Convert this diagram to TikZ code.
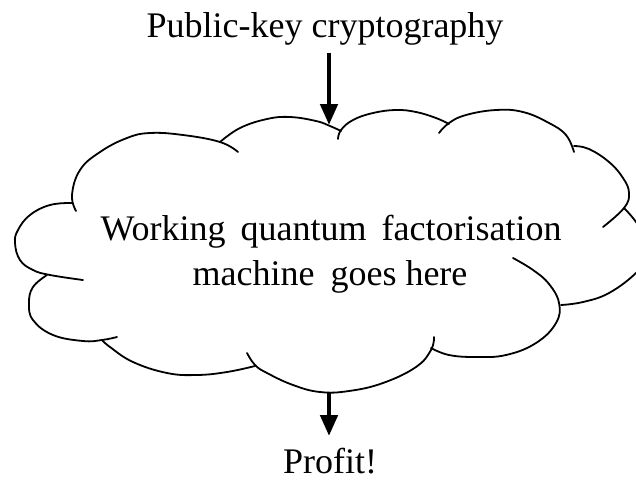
\documentclass[tikz,border=0pt]{standalone}
\usepackage{fontspec}
\setmainfont{Liberation Serif}
\usetikzlibrary{arrows.meta}
\begin{document}
\begin{tikzpicture}[x=1pt,y=-1pt,
  lbl/.style={anchor=base,inner sep=0pt,text depth=0pt,font=\fontsize{36}{45}\selectfont},
  lobe/.style={draw=black,line width=1.8pt,line cap=round},
  arr/.style={draw=black,line width=4.6pt,-{Triangle[width=17pt,length=21pt]}}]
\useasboundingbox (0,0) rectangle (636,480);
\clip (0,0) rectangle (636,480);
% texts
\node[lbl] (pk) at (325,37) {Public-key cryptography};
\node[lbl] (m1) at (331,240) {Working\hspace{15pt}quantum\hspace{15pt}factorisation};
\node[lbl] (m2) at (330,285) {machine\hspace{16pt}goes here};
\node[lbl] (profit) at (330,473) {Profit!};
% cloud lobes
\draw[lobe] plot[smooth,tension=0.7] coordinates {(76,211) (72,195) (80,170) (100,152) (127,138) (150,133) (183,135) (220,142) (238,152)};
\draw[lobe] plot[smooth,tension=0.7] coordinates {(220,142) (240,128) (267,119) (290,117) (316,121) (330,126) (341,131)};
\draw[lobe] plot[smooth,tension=0.7] coordinates {(338,139) (341,130) (353,120) (373,113) (396,110) (416,112) (436,118) (449,124)};
\draw[lobe] plot[smooth,tension=0.7] coordinates {(439,133) (449,123) (466,115) (496,110) (523,112) (549,123) (566,135) (574,152)};
\draw[lobe] plot[smooth,tension=0.7] coordinates {(574,146) (589,149) (609,162) (623,178) (629,193) (624,208) (603,227)};
\draw[lobe] plot[smooth,tension=0.7] coordinates {(624,208) (636,222) (646,240) (648,256) (636,273) (609,293) (583,302) (561,305)};
\draw[lobe] plot[smooth,tension=0.7] coordinates {(513,258) (533,270) (549,284) (559,303) (556,323) (536,343) (506,355) (476,357) (449,355) (431,348)};
\draw[lobe] plot[smooth,tension=0.7] coordinates {(434,337) (431,350) (416,367) (383,383) (349,391) (320,392) (293,385) (267,373) (255,365) (247,353)};
\draw[lobe] plot[smooth,tension=0.7] coordinates {(255,366) (227,372) (197,375) (167,373) (133,362) (110,347) (102,340)};
\draw[lobe] plot[smooth,tension=0.7] coordinates {(117,337) (102,340) (83,341) (53,335) (33,320) (29,303) (33,287) (47,275)};
\draw[lobe] plot[smooth,tension=0.7] coordinates {(72,203) (50,205) (30,215) (18,230) (15,243) (20,260) (33,270) (50,275) (83,280)};
% connectors
\coordinate (cloudtop) at (329,125);
\coordinate (cloudbot) at (329,392);
\coordinate (a1s) at (329,53);
\coordinate (a2e) at (329,436);
\draw[arr] (a1s) -- (cloudtop);
\draw[arr] (cloudbot) -- (a2e);
\end{tikzpicture}
\end{document}
